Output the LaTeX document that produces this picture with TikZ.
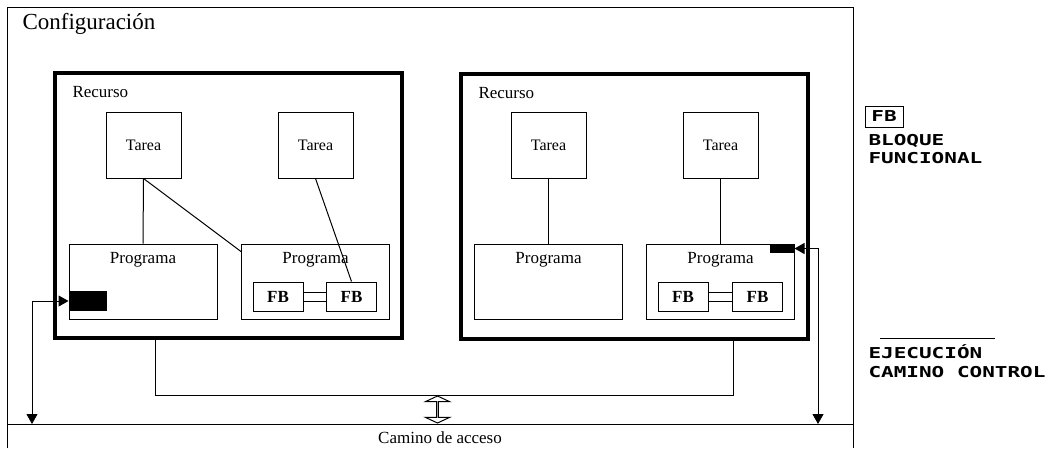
\documentclass[tikz,border=0pt]{standalone}
\usepackage{fontspec}
\setmainfont{Liberation Serif}
\newfontfamily\legendfont[FakeStretch=1.4]{DejaVu Sans Mono}
\usetikzlibrary{arrows.meta,shapes.arrows}

\begin{document}
\begin{tikzpicture}[
  x=1pt, y=-1pt, line width=1pt,
  recurso/.style={draw, line width=4pt, minimum width=347pt, minimum height=265pt, inner sep=0pt},
  reclab/.style={anchor=north west, inner sep=0pt, xshift=19pt, yshift=-15pt, font=\fontsize{17}{19}\selectfont},
  tarea/.style={draw, minimum width=75pt, minimum height=66pt, font=\fontsize{16}{18}\selectfont},
  prog/.style={draw, minimum width=148pt, minimum height=75pt, inner sep=0pt,
               label={[anchor=north, inner sep=0pt, yshift=-8.5pt, font=\fontsize{17}{19}\selectfont]north:Programa}},
  fb/.style={draw, minimum width=50pt, minimum height=29pt, inner sep=0pt, font=\fontsize{17}{19}\selectfont\bfseries},
  blk/.style={fill=black, inner sep=0pt},
  arr/.style={{Triangle[length=10pt,width=11pt]}-{Triangle[length=10pt,width=11pt]}},
  leg/.style={anchor=base west, inner sep=0pt, font=\legendfont\bfseries\fontsize{15}{18}\selectfont}
]
\useasboundingbox (0,0) rectangle (1048,448);

% configuracion
\draw (7,448) -- (7,7) -- (853,7) -- (853,448);
\node[anchor=base west, inner sep=0pt, font=\fontsize{23}{25}\selectfont] (conf) at (22,29) {Configuración};

% recursos
\node[recurso, label={[reclab]north west:Recurso}] (rec1) at (228.5,205.5) {};
\node[recurso, label={[reclab]north west:Recurso}] (rec2) at (634.5,206) {};

\node[tarea] (ta1) at (143.5,145) {Tarea};
\node[tarea] (ta2) at (315.5,145) {Tarea};
\node[tarea] (ta3) at (548.5,145) {Tarea};
\node[tarea] (ta4) at (720.5,145) {Tarea};

\node[prog] (pr1) at (143,281.5) {};
\node[prog] (pr2) at (315.5,281.5) {};
\node[prog] (pr3) at (548.5,281.5) {};
\node[prog] (pr4) at (720.5,281.5) {};

\node[fb] (fb1) at (278,296.5) {FB};
\node[fb] (fb2) at (351.5,296.5) {FB};
\node[fb] (fb3) at (683,296.5) {FB};
\node[fb] (fb4) at (757.5,296.5) {FB};

\node[blk, minimum width=38pt, minimum height=20pt] (blk1) at (88,301) {};
\node[blk, minimum width=24pt, minimum height=9pt] (blk2) at (782,248.5) {};

\draw (ta1.south) -- (pr1.north);
\draw (ta1.south) -- ([yshift=-8pt]pr2.north west);
\draw (ta2.south) -- (fb2.north);
\draw (ta3.south) -- (pr3.north);
\draw (ta4.south) -- (pr4.north);

\draw ([yshift=4.5pt]fb1.east) -- ([yshift=4.5pt]fb2.west);
\draw ([yshift=-4.5pt]fb1.east) -- ([yshift=-4.5pt]fb2.west);
\draw ([yshift=4.5pt]fb3.east) -- ([yshift=4.5pt]fb4.west);
\draw ([yshift=-4.5pt]fb3.east) -- ([yshift=-4.5pt]fb4.west);

% camino de acceso
\coordinate (accW) at (7,424);
\coordinate (accE) at (853,424);
\draw (accW) -- (accE);
\node[inner sep=0pt, anchor=base, font=\fontsize{17}{19}\selectfont] (camino) at (440,443) {Camino de acceso};

\coordinate (busL) at (155,395);
\coordinate (busR) at (733,395);
\draw (rec1.south -| busL) -- (busL) -- (busR) -- (rec2.south -| busR);

\node[draw, double arrow, rotate=90, minimum height=27pt, minimum width=24pt,
      double arrow head extend=7pt, double arrow tip angle=130,
      inner sep=0pt, outer sep=0pt] (dbl) at (437.5,409.5) {};

\coordinate (ctlL) at (32,424);
\coordinate (ctlR) at (818,424);
\draw[arr] (blk1.west) -| (ctlL);
\draw[arr] (blk2.east) -| (ctlR);

% leyenda
\node[draw, minimum width=38pt, minimum height=21pt, inner sep=0pt, font=\legendfont\bfseries\fontsize{15}{18}\selectfont] (legfb) at (884,116.5) {FB};
\node[leg] (leg1) at (868,145) {BLOQUE};
\node[leg] (leg2) at (868,163) {FUNCIONAL};
\draw (880,338) -- (995,338);
\node[leg] (leg3) at (868,358) {EJECUCIÓN};
\node[leg] (leg4) at (868,377) {CAMINO CONTROL};
\end{tikzpicture}
\end{document}
